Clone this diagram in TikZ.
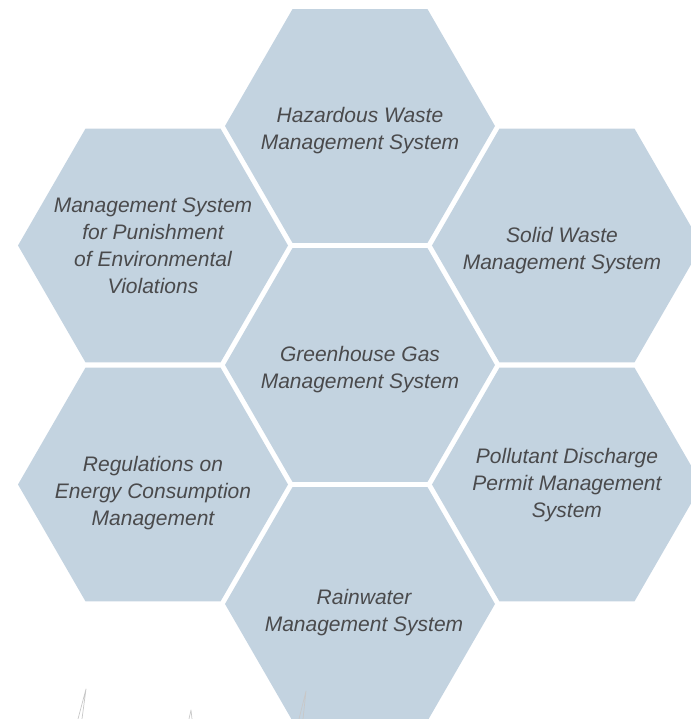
\documentclass[tikz,border=0pt]{standalone}
\usepackage{fontspec}
\setmainfont{Liberation Sans}
\usepackage{tikz}
\usetikzlibrary{
  shapes.geometric,
  positioning
}
\definecolor{HexBlue}{RGB}{195, 211, 224}
\definecolor{LabelGray}{RGB}{74, 74, 76}
\definecolor{InkGray}{RGB}{200, 200, 200}
\tikzset{
    hexfill/.style={fill=HexBlue},
    hexlabel/.style={inner sep=0pt, text=LabelGray, align=center,
        font=\fontsize{21}{27}\selectfont\itshape},
    inkmark/.style={draw=InkGray, line width=0.7pt, line join=round}
}

\begin{document}
\begin{tikzpicture}
            \useasboundingbox (-360pt,-354pt) rectangle (330pt,365pt);
            % honeycomb cells: centre, then the ring
            \fill[hexfill] (0:135pt) -- ++(120:135pt) -- ++(180:135pt) -- ++(240:135pt) -- ++(300:135pt) -- ++(0:135pt) -- cycle;
            \foreach \ang in {90,30,-30,-90,-150,150}
                \fill[hexfill] (\ang:239pt) ++(0:135pt) -- ++(120:135pt) -- ++(180:135pt) -- ++(240:135pt) -- ++(300:135pt) -- ++(0:135pt) -- cycle;
            % labels
            \node[hexlabel, yshift=-5pt] (ghg) at (0,0) {Greenhouse Gas\\Management System};
            \node[hexlabel, yshift=-5pt] (hazard) at (90:239pt) {Hazardous Waste\\Management System};
            \node[hexlabel, xshift=-5pt, yshift=-5pt] (solid) at (30:239pt) {Solid Waste\\Management System};
            \node[hexlabel, yshift=-1pt] (permit) at (-30:239pt) {Pollutant Discharge\\Permit Management\\System};
            \node[hexlabel, xshift=4pt, yshift=-9pt] (rain) at (-90:239pt) {Rainwater\\Management System};
            \node[hexlabel, yshift=-9pt] (energy) at (-150:239pt) {Regulations on\\Energy Consumption\\Management};
            \node[hexlabel] (punish) at (150:239pt) {Management System\\for Punishment\\of Environmental\\Violations};
            % faint pen marks at the bottom
            \draw[inkmark] (-282pt,-354pt) -- (-274pt,-324pt) -- (-278pt,-354pt);
            \draw[inkmark] (-61pt,-354pt) -- (-54pt,-326pt) -- (-57pt,-354pt);
            \draw[inkmark] (-171pt,-354pt) -- (-169pt,-345pt) -- (-168pt,-354pt);
        \end{tikzpicture}
\end{document}
